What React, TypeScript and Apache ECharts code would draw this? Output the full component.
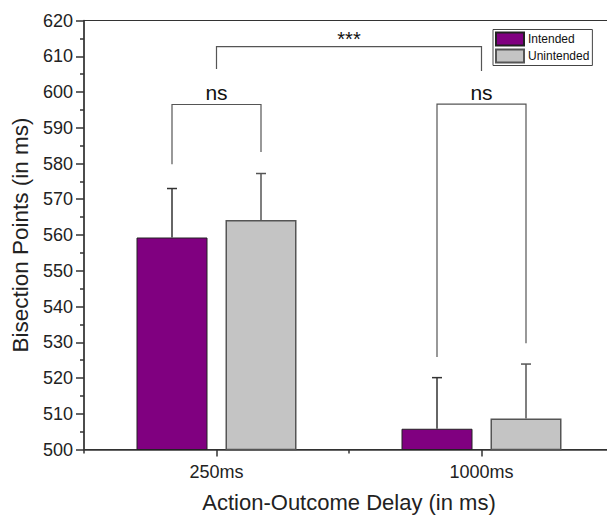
import React, { useEffect, useRef } from "react";
import * as echarts from "echarts";

const categories = ["250ms", "1000ms"];
const seriesNames = ["Intended", "Unintended"];
const intendedMeans = [559.3, 505.8];
const unintendedMeans = [564.2, 508.7];
const intendedErrTop = [573.0, 520.1];
const unintendedErrTop = [577.2, 523.9];
const yMin = 500;
const yMax = 620;
const yInterval = 10;

const bracketLabels = ["ns", "ns", "***"];
const bracketLeftCat = [0, 1, 0];
const bracketLeftBar = [-1, -1, 0]; // -1 Intended bar, 1 Unintended bar, 0 category centre
const bracketRightCat = [0, 1, 1];
const bracketRightBar = [1, 1, 0];
const bracketTop = [596.5, 596.6, 612.7];
const bracketLeftFoot = [579.8, 525.9, 606.4];
const bracketRightFoot = [583.2, 529.7, 605.9];

const FONT = "'Liberation Sans', Arial, sans-serif";
const BAR_W = 71;
const BAR_GAP = 18;
const OFF = (BAR_W + BAR_GAP) / 2;

function errSeries(name: string, means: number[], tops: number[], side: number, color: string) {
  return {
    type: "custom",
    name,
    z: 5,
    data: means.map((m, i) => [i, m, tops[i]]),
    renderItem: (params: any, api: any) => {
      const c = api.value(0);
      const p0 = api.coord([c, api.value(1)]);
      const p1 = api.coord([c, api.value(2)]);
      const x = p0[0] + side * OFF;
      const st = { stroke: color, lineWidth: 1.5 };
      return {
        type: "group",
        children: [
          { type: "line", shape: { x1: x, y1: p0[1], x2: x, y2: p1[1] }, style: st },
          { type: "line", shape: { x1: x - 5, y1: p1[1], x2: x + 5, y2: p1[1] }, style: st },
        ],
      };
    },
  };
}

export default function App() {
  const ref = useRef<HTMLDivElement>(null);
  useEffect(() => {
    document.body.style.margin = "0";
    if (!ref.current) return;
    const chart = echarts.init(ref.current, undefined, { renderer: "svg" });
    const option: any = {
      animation: false,
      backgroundColor: "#ffffff",
      grid: {
        left: 84,
        top: 20.5,
        width: 530,
        height: 429,
        show: true,
        borderColor: "#333",
        borderWidth: 1,
        containLabel: false,
        outerBoundsMode: "none",
      },
      legend: {
        data: seriesNames,
        orient: "vertical",
        left: 493,
        top: 29.5,
        itemWidth: 28,
        itemHeight: 13,
        itemGap: 2,
        padding: [2, 3, 2, 2],
        borderColor: "#444",
        borderWidth: 1,
        icon: "rect",
        textStyle: { fontSize: 12, color: "#111", fontFamily: FONT, padding: [0, 0, 0, -1] },
      },
      xAxis: [
        {
          type: "category",
          data: categories,
          boundaryGap: true,
          axisLine: { show: true, lineStyle: { color: "#333", width: 1.5 } },
          axisTick: { show: true, alignWithLabel: true, length: 7, lineStyle: { color: "#333", width: 1.5 } },
          axisLabel: { fontSize: 18, margin: 13, color: "#222", fontFamily: FONT },
          name: "Action-Outcome Delay (in ms)",
          nameLocation: "middle",
          nameGap: 42,
          nameTextStyle: { fontSize: 22, color: "#222", fontFamily: FONT },
          splitLine: { show: false },
        },
        {
          type: "category",
          data: categories,
          position: "bottom",
          boundaryGap: true,
          axisLine: { show: false },
          axisTick: { show: true, length: 4, lineStyle: { color: "#333", width: 1.5 } },
          axisLabel: { show: false },
          splitLine: { show: false },
        },
      ],
      yAxis: {
        type: "value",
        min: yMin,
        max: yMax,
        interval: yInterval,
        axisLine: { show: true, lineStyle: { color: "#333", width: 1.5 } },
        axisTick: { show: true, length: 8, lineStyle: { color: "#333", width: 1.5 } },
        minorTick: { show: true, splitNumber: 2, length: 4, lineStyle: { color: "#333", width: 1.5 } },
        splitLine: { show: false },
        axisLabel: { fontSize: 18, margin: 11, color: "#222", fontFamily: FONT },
        name: "Bisection Points (in ms)",
        nameLocation: "middle",
        nameGap: 50,
        nameTextStyle: { fontSize: 22.5, color: "#222", fontFamily: FONT },
      },
      series: [
        {
          type: "bar",
          name: seriesNames[0],
          data: intendedMeans,
          barWidth: BAR_W,
          barGap: `${(BAR_GAP / BAR_W) * 100}%`,
          itemStyle: { color: "#800080", borderColor: "#222", borderWidth: 1 },
        },
        {
          type: "bar",
          name: seriesNames[1],
          data: unintendedMeans,
          barWidth: BAR_W,
          barGap: `${(BAR_GAP / BAR_W) * 100}%`,
          itemStyle: { color: "#c4c4c4", borderColor: "#555", borderWidth: 1.5 },
        },
        errSeries("errIntended", intendedMeans, intendedErrTop, -1, "#333"),
        errSeries("errUnintended", unintendedMeans, unintendedErrTop, 1, "#555"),
        {
          type: "custom",
          name: "brackets",
          z: 6,
          data: bracketLabels.map((_, i) => [bracketLeftCat[i], bracketTop[i]]),
          renderItem: (params: any, api: any) => {
            const i = params.dataIndex;
            const top = api.coord([bracketLeftCat[i], bracketTop[i]]);
            const lf = api.coord([bracketLeftCat[i], bracketLeftFoot[i]]);
            const rf = api.coord([bracketRightCat[i], bracketRightFoot[i]]);
            const xl = lf[0] + bracketLeftBar[i] * OFF;
            const xr = rf[0] + bracketRightBar[i] * OFF;
            const y = top[1];
            const st = { stroke: "#555", lineWidth: 1.2, fill: "none" };
            const isStar = bracketLabels[i] === "***";
            return {
              type: "group",
              children: [
                {
                  type: "polyline",
                  shape: { points: [[xl, lf[1]], [xl, y], [xr, y], [xr, rf[1]]] },
                  style: st,
                },
                {
                  type: "text",
                  x: (xl + xr) / 2,
                  y: y - (isStar ? 8 : 12),
                  style: {
                    text: bracketLabels[i],
                    fontSize: isStar ? 20 : 21,
                    fontFamily: FONT,
                    fill: "#111",
                    align: "center",
                    verticalAlign: "middle",
                  },
                },
              ],
            };
          },
        },
      ],
    };
    chart.setOption(option);
    return () => chart.dispose();
  }, []);
  return <div ref={ref} style={{ width: 607, height: 516 }} />;
}
